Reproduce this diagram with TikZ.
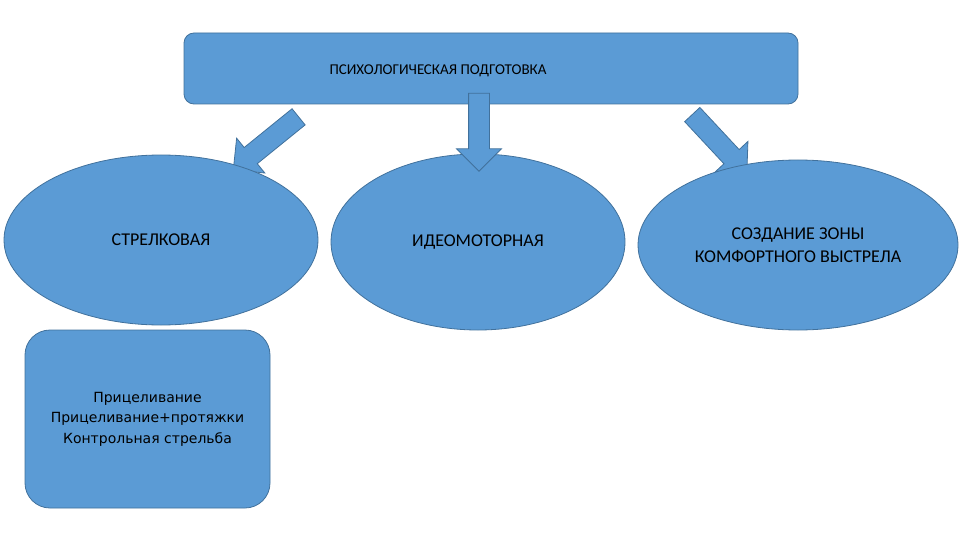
\documentclass[tikz,border=0pt]{standalone}
\usepackage{fontspec}
\setmainfont{Carlito}
\newfontfamily\listfont{DejaVu Sans}
\usetikzlibrary{shapes.geometric, shapes.arrows}
\definecolor{blockfill}{HTML}{5B9BD5}
\definecolor{blockline}{HTML}{41719C}

\begin{document}
\begin{tikzpicture}[x=1pt, y=-1pt,
    block/.style={draw=blockline, fill=blockfill, line width=0.8pt},
    oval/.style={block, ellipse, inner sep=0pt, align=center, font=\fontsize{18}{23}\selectfont},
    blockarrow/.style={block, single arrow, inner sep=10pt, single arrow head extend=12pt}]
    \useasboundingbox (0,0) rectangle (960,540);

    \coordinate (T) at (491,68.5);
    \coordinate (S) at (161,240);
    \coordinate (I) at (478,242);
    \coordinate (K) at (798,245);
    \coordinate (P) at (147.5,419);

    \node[block, rounded corners=10pt, minimum width=614pt, minimum height=71pt] (top) at (T) {};
    \node[font=\fontsize{15}{17}\selectfont] (title) at (438,71) {ПСИХОЛОГИЧЕСКАЯ ПОДГОТОВКА};

    \node[blockarrow, minimum height=84pt, rotate=219] (arrS) at (270,140) {};
    \node[blockarrow, minimum height=80pt, rotate=-47] (arrK) at (716,140) {};

    \node[oval, minimum width=314pt, minimum height=170pt] (shoot) at (S) {СТРЕЛКОВАЯ};
    \node[oval, minimum width=294pt, minimum height=176pt] (ideo) at (I) {ИДЕОМОТОРНАЯ};
    \node[oval, minimum width=320pt, minimum height=170pt] (zone) at (K) {СОЗДАНИЕ ЗОНЫ\\КОМФОРТНОГО ВЫСТРЕЛА};

    \node[blockarrow, minimum height=78pt, rotate=-90] (arrI) at (479,127) {};

    \node[block, rounded corners=25pt, minimum width=245pt, minimum height=178pt,
        align=center, font=\listfont\fontsize{14}{20.5}\selectfont] (aim) at (P)
        {Прицеливание\\Прицеливание+протяжки\\Контрольная стрельба};
\end{tikzpicture}
\end{document}
